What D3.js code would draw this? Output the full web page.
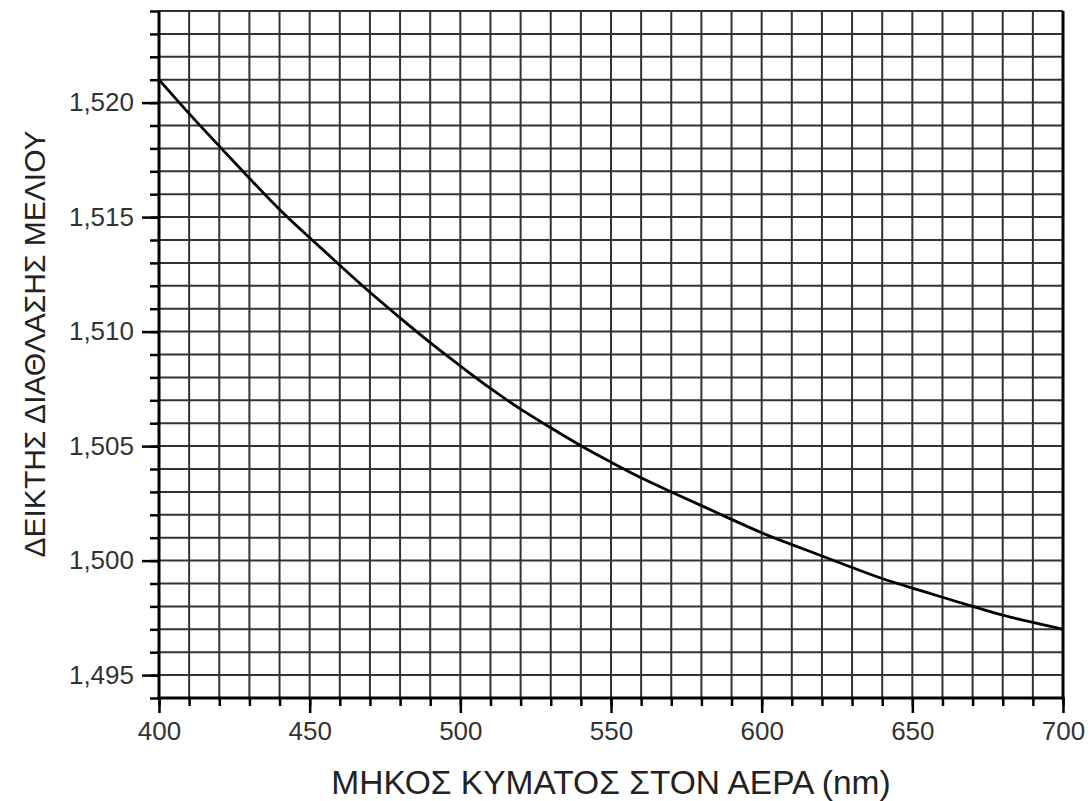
<!DOCTYPE html>
<html>
<head>
<meta charset="utf-8">
<script src="https://cdn.jsdelivr.net/npm/d3@7"></script>
<style>
  html, body { margin: 0; padding: 0; background: #fff; }
  svg { display: block; }
  text { font-family: "Liberation Sans", Arial, sans-serif; }
</style>
</head>
<body>
<svg id="chart" width="1090" height="801"></svg>
<script>
// ---- data ----
const wavelengths = [400, 410, 420, 430, 440, 450, 460, 470, 480, 490, 500,
  510, 520, 530, 540, 550, 560, 570, 580, 590, 600,
  610, 620, 630, 640, 650, 660, 670, 680, 690, 700];
const refractiveIndex = [1.5210, 1.5195, 1.5181, 1.5167, 1.5153, 1.5141, 1.5129, 1.5117, 1.5106, 1.5095, 1.5085,
  1.5075, 1.5066, 1.5058, 1.5050, 1.5043, 1.5036, 1.5030, 1.5024, 1.5018, 1.5012,
  1.5007, 1.5002, 1.4997, 1.4992, 1.4988, 1.4984, 1.4980, 1.4976, 1.4973, 1.4970];
const xTickValues = [400, 450, 500, 550, 600, 650, 700];
const yTickValues = [1.495, 1.500, 1.505, 1.510, 1.515, 1.520];
const xTitle = "ΜΗΚΟΣ ΚΥΜΑΤΟΣ ΣΤΟΝ ΑΕΡΑ (nm)";
const yTitle = "ΔΕΙΚΤΗΣ ΔΙΑΘΛΑΣΗΣ ΜΕΛΙΟΥ";

// ---- layout ----
const margin = { left: 159, top: 11, right: 27, bottom: 103 };
const W = 1090, H = 801;
const iw = W - margin.left - margin.right;
const ih = H - margin.top - margin.bottom;

const svg = d3.select("#chart");
const g = svg.append("g").attr("transform", `translate(${margin.left},${margin.top})`);

const x = d3.scaleLinear().domain([400, 700]).range([0, iw]);
const y = d3.scaleLinear().domain([1.494, 1.524]).range([ih, 0]);

const xMinor = d3.range(400, 701, 10);
const yMinor = d3.range(1494, 1525, 1).map(v => v / 1000);

// grid
g.append("g").selectAll("line").data(xMinor.filter(v => v > 400 && v < 700)).join("line")
  .attr("x1", d => x(d)).attr("x2", d => x(d))
  .attr("y1", 0).attr("y2", ih)
  .attr("stroke", "#333").attr("stroke-width", 2);
g.append("g").selectAll("line").data(yMinor.filter(v => v > 1.4945)).join("line")
  .attr("x1", 0).attr("x2", iw)
  .attr("y1", d => y(d)).attr("y2", d => y(d))
  .attr("stroke", "#333").attr("stroke-width", 2);

// axes
const fmt = d => d3.format(".3f")(d).replace(".", ",");
const yMinorAxis = d3.axisLeft(y).tickValues(yMinor).tickSize(9).tickFormat("");
const yMajorAxis = d3.axisLeft(y).tickValues(yTickValues).tickSize(17).tickPadding(8).tickFormat(fmt);
const xMinorAxis = d3.axisBottom(x).tickValues(xMinor).tickSize(8).tickFormat("");
const xMajorAxis = d3.axisBottom(x).tickValues(xTickValues).tickSize(15).tickPadding(9).tickFormat(d3.format("d"));

function styleAxis(sel) {
  sel.select(".domain").remove();
  sel.selectAll(".tick line").attr("stroke", "#000").attr("stroke-width", 2.5);
  sel.selectAll(".tick text").attr("fill", "#333").style("font-size", "26px")
    .style("font-family", '"Liberation Sans", Arial, sans-serif');
}
g.append("g").call(yMinorAxis).call(styleAxis);
g.append("g").call(yMajorAxis).call(styleAxis);
g.append("g").attr("transform", `translate(0,${ih})`).call(xMinorAxis).call(styleAxis);
g.append("g").attr("transform", `translate(0,${ih})`).call(xMajorAxis).call(styleAxis);

// axis lines
g.append("line").attr("x1", 0).attr("x2", 0).attr("y1", 0).attr("y2", ih + 1.5)
  .attr("stroke", "#000").attr("stroke-width", 3);
g.append("line").attr("x1", iw).attr("x2", iw).attr("y1", 0).attr("y2", ih + 1.5)
  .attr("stroke", "#000").attr("stroke-width", 3);
g.append("line").attr("x1", -1.5).attr("x2", iw + 1.5).attr("y1", ih).attr("y2", ih)
  .attr("stroke", "#000").attr("stroke-width", 3);

// curve
const pts = wavelengths.map((w, i) => [w, refractiveIndex[i]]);
g.append("path").datum(pts)
  .attr("fill", "none").attr("stroke", "#000").attr("stroke-width", 2.8)
  .attr("d", d3.line().x(d => x(d[0])).y(d => y(d[1])).curve(d3.curveBasis));

// titles
svg.append("text").attr("x", margin.left + iw / 2).attr("y", 794)
  .attr("text-anchor", "middle").attr("fill", "#222").style("font-size", "33.5px")
  .text(xTitle);
svg.append("text").attr("transform", `translate(45,${344}) rotate(-90)`)
  .attr("text-anchor", "middle").attr("fill", "#222").style("font-size", "30px")
  .text(yTitle);
</script>
</body>
</html>
